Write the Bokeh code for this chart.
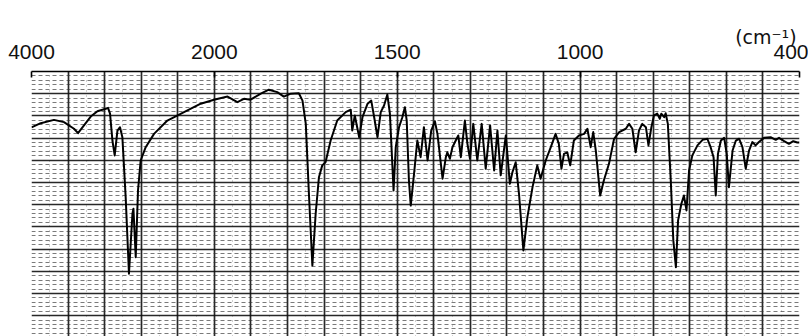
import numpy as np
from bokeh.plotting import figure
from bokeh.models import (Range1d, LinearAxis, FixedTicker, Grid,
                          ColumnDataSource)
from bokeh.embed import file_html
from bokeh.resources import INLINE

# ---- data: IR spectrum (wavenumber in cm-1, transmittance in %) ----
wavenumber = [
    4000, 3899, 3754, 3645, 3535, 3491, 3426, 3352, 3279, 3188,
    3163, 3141, 3115, 3090, 3060, 3032, 3006, 2970, 2934, 2896,
    2885, 2860, 2835, 2806, 2751, 2660, 2514, 2332, 2149, 2004,
    1964, 1937, 1919, 1901, 1873, 1851, 1828, 1810, 1791, 1769,
    1759, 1750, 1741, 1732, 1723, 1714, 1705, 1696, 1682, 1664,
    1641, 1627, 1623, 1616, 1604, 1595, 1581, 1571, 1563, 1554,
    1545, 1536, 1527, 1520, 1510, 1504, 1495, 1486, 1479, 1474,
    1468, 1463, 1454, 1445, 1436, 1427, 1417, 1407, 1397, 1390,
    1376, 1367, 1363, 1356, 1349, 1340, 1333, 1326, 1315, 1308,
    1301, 1292, 1281, 1269, 1258, 1246, 1235, 1226, 1217, 1203,
    1192, 1185, 1176, 1167, 1155, 1144, 1130, 1117, 1108, 1094,
    1080, 1067, 1058, 1051, 1044, 1035, 1027, 1017, 1003, 989,
    980, 971, 964, 957, 945, 935, 921, 907, 893, 875,
    866, 857, 848, 839, 830, 820, 813, 805, 798, 789,
    782, 778, 770, 766, 760, 752, 745, 738, 732, 723,
    716, 709, 702, 693, 679, 665, 652, 643, 635, 629,
    623, 615, 606, 599, 593, 583, 574, 565, 556, 547,
    538, 529, 520, 511, 497, 479, 465, 456, 442, 429,
    417, 406, 400,
]
transmittance = [
    74.8, 76.7, 78.2, 77.2, 74.2, 72.2, 75.7, 79.7, 82.1, 83.2,
    83.6, 81.0, 68.9, 62.2, 73.4, 74.9, 70.4, 43.4, 8.9, 35.9,
    38.2, 16.3, 46.4, 59.9, 65.9, 71.9, 77.9, 81.7, 85.5, 87.3,
    88.7, 86.2, 87.7, 87.3, 90.0, 91.8, 90.7, 88.7, 90.0, 90.2,
    86.9, 76.4, 43.4, 12.6, 35.9, 52.4, 57.7, 59.1, 68.9, 77.9,
    81.7, 82.8, 73.4, 80.2, 70.4, 79.4, 85.5, 86.9, 79.4, 70.4,
    81.7, 84.7, 89.6, 81.0, 46.4, 65.9, 74.9, 79.4, 83.9, 77.9,
    50.9, 39.6, 53.9, 68.9, 61.4, 74.9, 59.9, 73.4, 77.6, 71.9,
    51.7, 61.4, 63.6, 60.7, 65.9, 68.9, 71.2, 61.4, 77.9, 67.4,
    60.7, 76.4, 59.9, 76.4, 56.2, 75.7, 55.4, 73.4, 53.2, 71.2,
    49.4, 54.6, 59.1, 44.9, 19.4, 34.4, 47.9, 57.7, 51.7, 59.9,
    65.9, 71.9, 67.4, 56.2, 62.9, 63.6, 57.7, 68.9, 71.2, 71.9,
    74.2, 65.9, 72.7, 64.4, 44.1, 50.9, 58.4, 69.7, 72.7, 74.2,
    76.4, 74.2, 63.6, 73.4, 76.4, 74.9, 66.7, 74.9, 80.2, 81.0,
    78.7, 81.0, 79.4, 81.2, 76.4, 50.9, 23.9, 11.8, 32.9, 40.4,
    44.1, 37.4, 55.4, 62.2, 66.7, 69.2, 69.7, 65.9, 61.4, 44.1,
    62.9, 68.9, 70.1, 62.9, 47.9, 64.4, 68.9, 69.7, 65.9, 56.2,
    64.4, 68.2, 66.7, 68.2, 70.1, 70.4, 69.2, 70.1, 68.6, 67.4,
    68.6, 68.0, 68.0,
]
tick_wavenumbers = [4000, 2000, 1500, 1000, 400]
tick_labels = ["4000", "2000", "1500", "1000", "400"]
grid_wavenumbers = [4000, 3600, 3200, 2800, 2400, 2000, 1900, 1800, 1700,
                    1600, 1500, 1400, 1300, 1200, 1100, 1000, 900, 800,
                    700, 600, 500, 400]
unit_label = "(cm\u207b\u00b9)"
unit_label_wavenumber = 492


def chart_x(wn):
    """IR chart paper scale: 400 cm-1 per division above 2000, 100 below."""
    wn = np.asarray(wn, dtype=float)
    return np.where(wn >= 2000, (4000 - wn) / 400.0, 5 + (2000 - wn) / 100.0)


src = ColumnDataSource(dict(x=chart_x(wavenumber), t=transmittance))

p = figure(width=808, height=336, output_backend="svg", toolbar_location=None,
           x_range=Range1d(0, 21), y_range=Range1d(-19.4, 100),
           x_axis_location=None, y_axis_location=None,
           min_border_left=31, min_border_right=9, min_border_top=71,
           min_border_bottom=0)
p.outline_line_color = None
p.background_fill_color = "white"
p.border_fill_color = "white"
p.xgrid.visible = False
p.ygrid.visible = False

# chart-paper grid
vgrid = Grid(dimension=0,
             ticker=FixedTicker(ticks=list(chart_x(grid_wavenumbers)),
                                minor_ticks=list(np.arange(0.5, 21, 1.0))),
             grid_line_color="#111111", grid_line_width=1.7, grid_line_alpha=0.9,
             minor_grid_line_color="#444444", minor_grid_line_dash="1 4",
             minor_grid_line_alpha=0.5)
hgrid = Grid(dimension=1,
             ticker=FixedTicker(ticks=list(range(-10, 101, 10)),
                                minor_ticks=[v for v in range(-18, 100, 2) if v % 10]),
             grid_line_color="#111111", grid_line_width=1.4, grid_line_alpha=0.9,
             minor_grid_line_color="#333333", minor_grid_line_dash="4 3",
             minor_grid_line_alpha=0.65)
p.add_layout(vgrid)
p.add_layout(hgrid)

p.line("x", "t", source=src, line_color="black", line_width=2,
       line_join="round")

# top wavenumber axis
tick_u = [float(u) for u in chart_x(tick_wavenumbers)]
ax = LinearAxis(ticker=FixedTicker(ticks=tick_u),
                major_label_overrides=dict(zip(tick_u, tick_labels)),
                axis_line_color="black", axis_line_width=1.6,
                major_tick_in=6, major_tick_out=0,
                major_tick_line_color="black", major_tick_line_width=1.6,
                minor_tick_line_color=None,
                major_label_standoff=13,
                major_label_text_font="Liberation Sans",
                major_label_text_font_size="21px",
                major_label_text_color="#111111")
p.add_layout(ax, "above")

# unit label, carried by a bare outer axis
unit_u = float(chart_x([unit_label_wavenumber])[0])
ax_unit = LinearAxis(ticker=FixedTicker(ticks=[unit_u]),
                     major_label_overrides={unit_u: unit_label},
                     axis_line_color=None, major_tick_line_color=None,
                     minor_tick_line_color=None,
                     major_tick_in=0, major_tick_out=0,
                     major_label_standoff=-6,
                     major_label_text_font="DejaVu Sans",
                     major_label_text_font_size="19px",
                     major_label_text_color="#111111")
p.add_layout(ax_unit, "above")

open("out.html", "w").write(file_html(p, INLINE))
